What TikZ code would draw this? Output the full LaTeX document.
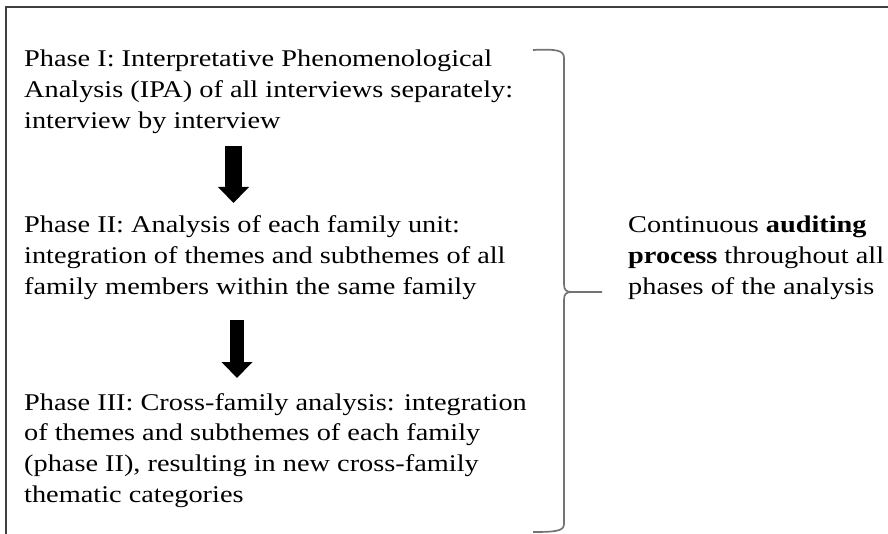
\documentclass[tikz,border=0pt]{standalone}
\usepackage{fontspec}
\setmainfont{Liberation Serif}[FakeStretch=1.18]
\usetikzlibrary{arrows.meta}
\newcommand{\phasetext}[1]{\vtop{\baselineskip=30.8pt #1}}
\begin{document}
\begin{tikzpicture}[x=1pt,y=-1pt,
  frame/.style={draw=black!75,line width=2pt},
  bracepath/.style={draw=black!55,line width=1.7pt},
  phase/.style={anchor=base west,inner sep=0pt,font=\fontsize{24}{30.8}\selectfont},
  blockarrow/.style={line width=#1,-{Triangle[width=30pt,length=16pt]}}]
  \useasboundingbox (0,0) rectangle (888,534);
  % outer frame (top and left edges)
  \coordinate (fr) at (888,7);
  \coordinate (fc) at (6,7);
  \coordinate (fb) at (6,534);
  \draw[frame] (fr) -- (fc) -- (fb);

  % the three phases
  \node[phase] (p1) at (24,67) {\phasetext{%
    \hbox{Phase I: Interpretative Phenomenological}%
    \hbox{Analysis (IPA) of all interviews separately:}%
    \hbox{interview by interview}}};
  \node[phase] (p2) at (24,233) {\phasetext{%
    \hbox{Phase II: Analysis of each family unit:}%
    \hbox{integration of themes and subthemes of all}%
    \hbox{family members within the same family}}};
  \node[phase] (p3) at (24,410) {\phasetext{%
    \hbox{Phase III: Cross-family analysis: integration}%
    \hbox{of themes and subthemes of each family}%
    \hbox{(phase II), resulting in new cross-family}%
    \hbox{thematic categories}}};

  % block arrows between phases
  \coordinate (a1s) at (233.5,146);
  \coordinate (a1e) at (233.5,203);
  \coordinate (a2s) at (237,320);
  \coordinate (a2e) at (237,378);
  \draw[blockarrow=17pt] (a1s) -- (a1e);
  \draw[blockarrow=14pt] (a2s) -- (a2e);

  % right brace
  \coordinate (btop) at (533,50);
  \coordinate (bbot) at (533,532);
  \coordinate (bmid) at (572,292);
  \coordinate (btip) at (602,292);
  \draw[bracepath] (btop) .. controls (556,49) and (564,50) .. (564,58)
    -- (564,284) .. controls (564,290) and (566,292) .. (bmid) -- (btip);
  \draw[bracepath] (bmid) .. controls (566,292) and (564,294) .. (564,300)
    -- (564,524) .. controls (564,531) and (556,532) .. (bbot);

  % auditing note
  \node[phase] (audit) at (628,233) {\phasetext{%
    \hbox{Continuous \textbf{auditing}}%
    \hbox{\textbf{process} throughout all}%
    \hbox{phases of the analysis}}};
\end{tikzpicture}
\end{document}
